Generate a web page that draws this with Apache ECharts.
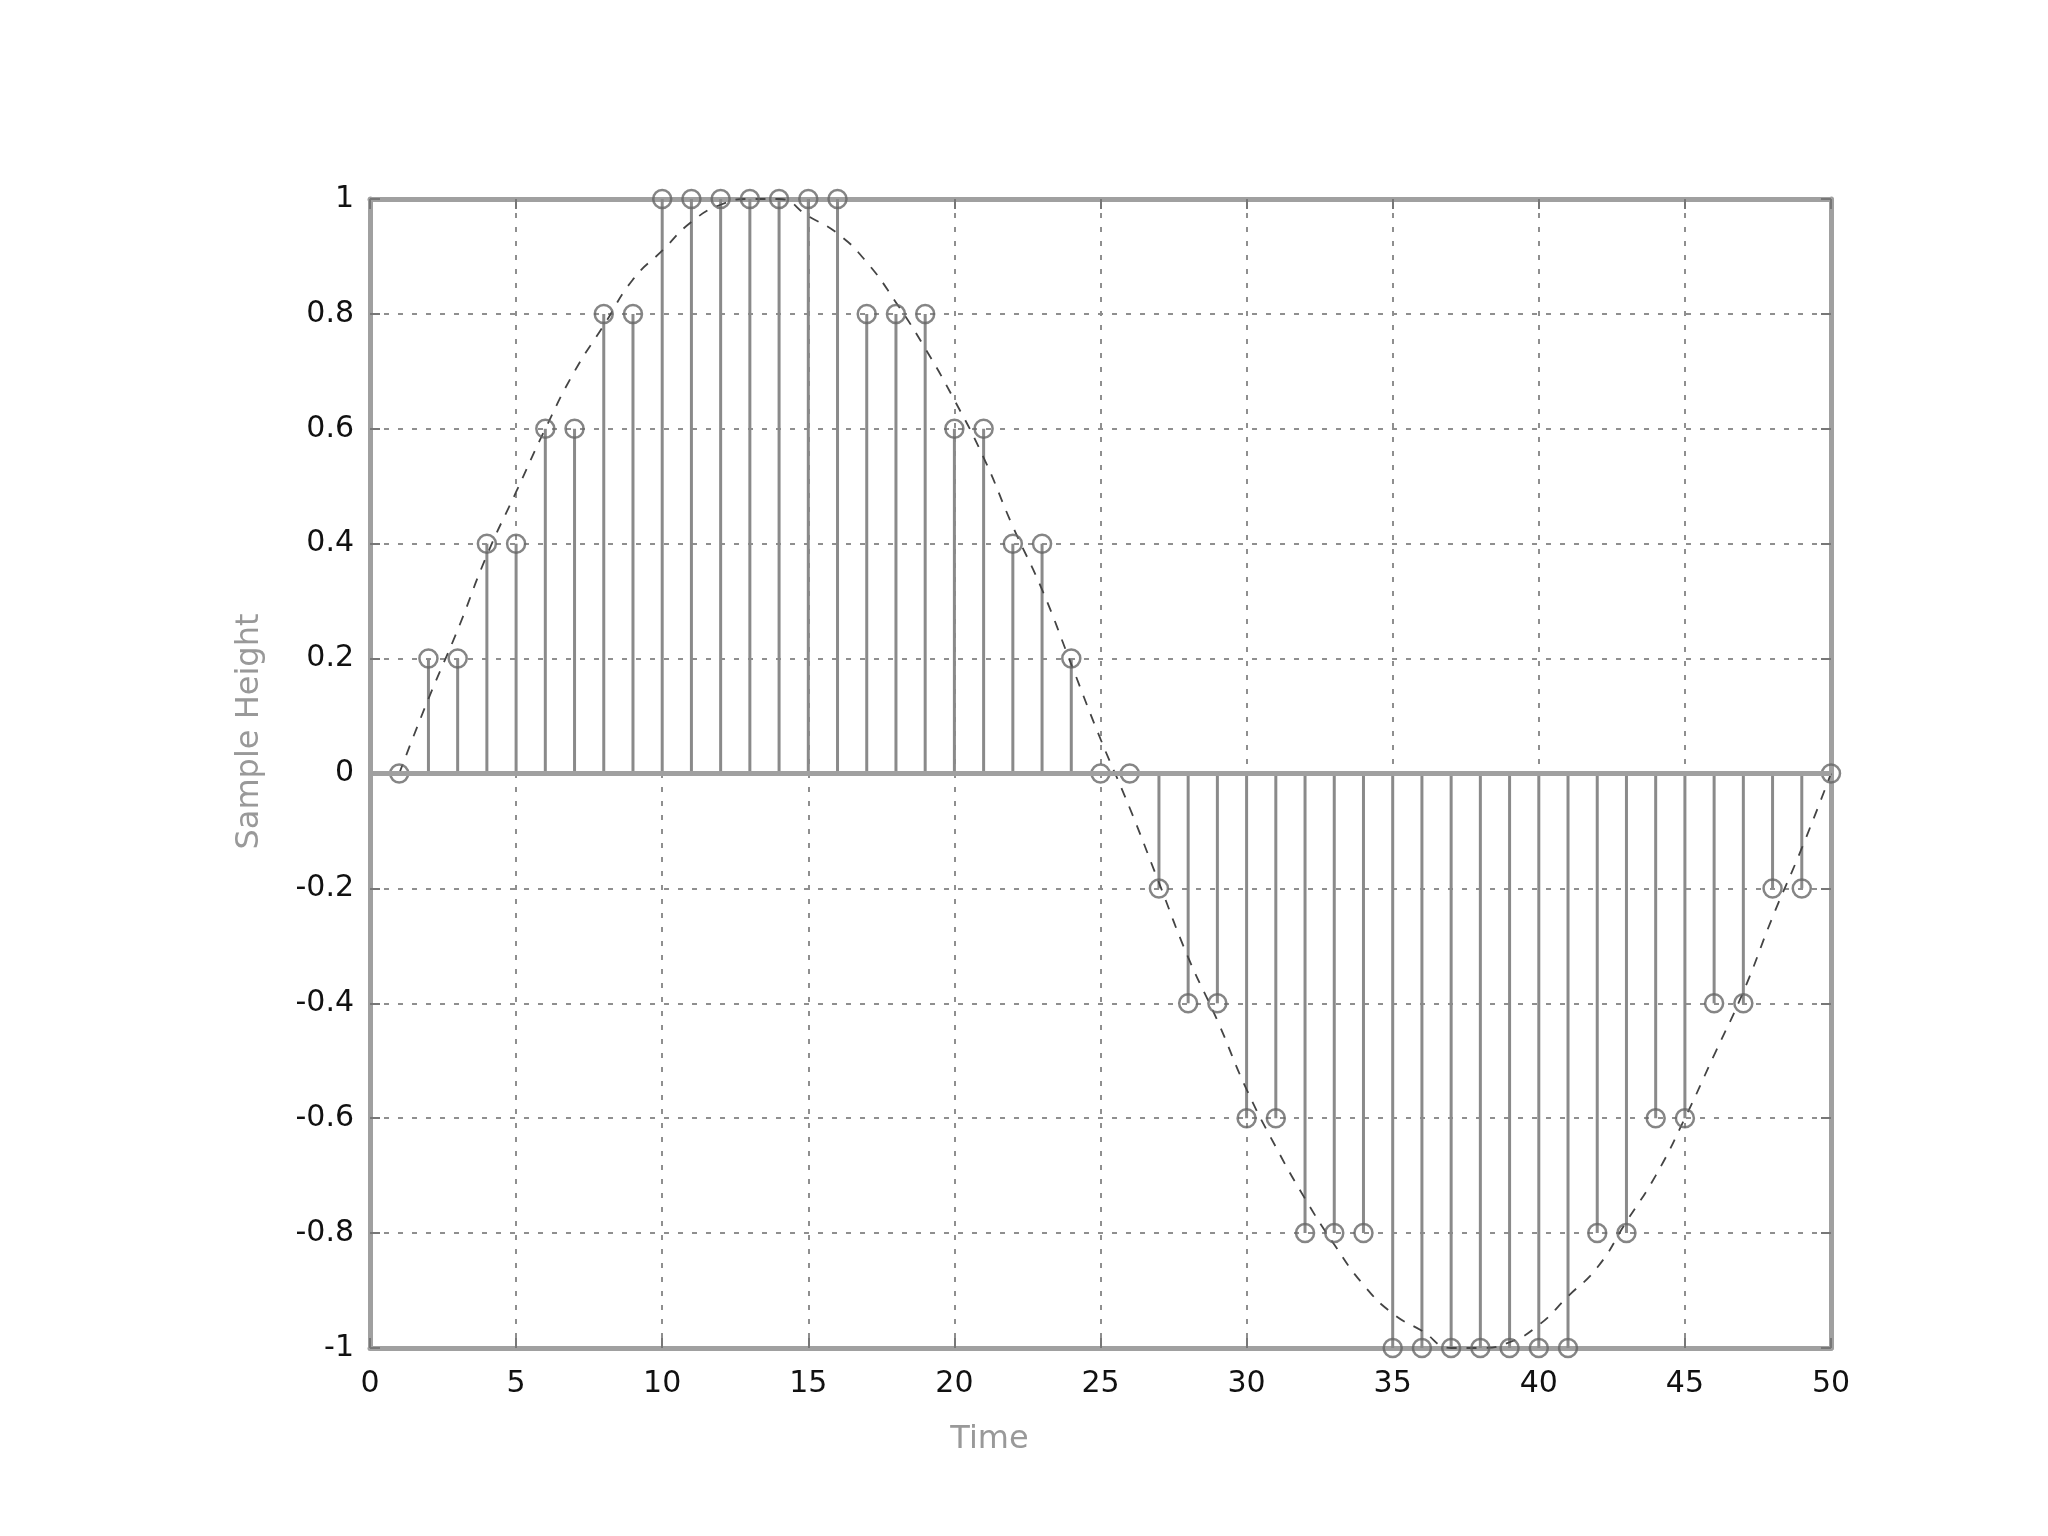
<!DOCTYPE html>
<html>
<head>
<meta charset="utf-8">
<script src="https://cdn.jsdelivr.net/npm/echarts@6/dist/echarts.min.js"></script>
<style>
html,body{margin:0;padding:0;background:#fff;}
#chart{width:2048px;height:1536px;}
</style>
</head>
<body>
<div id="chart"></div>
<script>
// Sample times (x values)
const times = [1,2,3,4,5,6,7,8,9,10,11,12,13,14,15,16,17,18,19,20,21,22,23,24,25,
               26,27,28,29,30,31,32,33,34,35,36,37,38,39,40,41,42,43,44,45,46,47,48,49,50];
// Quantized sample heights (stems + circles)
const samples = [0,0.2,0.2,0.4,0.4,0.6,0.6,0.8,0.8,1,1,1,1,1,1,1,0.8,0.8,0.8,0.6,0.6,0.4,0.4,0.2,0,
                 0,-0.2,-0.4,-0.4,-0.6,-0.6,-0.8,-0.8,-0.8,-1,-1,-1,-1,-1,-1,-1,-0.8,-0.8,-0.6,-0.6,-0.4,-0.4,-0.2,-0.2,0];
// Underlying continuous signal (dashed curve)
const envelope = [0,0.13,0.25,0.38,0.49,0.6,0.7,0.78,0.86,0.91,0.96,0.99,1,1,0.97,0.94,0.89,0.82,0.74,0.65,0.55,0.43,0.32,0.19,0.06,
                  -0.06,-0.19,-0.32,-0.43,-0.55,-0.65,-0.74,-0.82,-0.89,-0.94,-0.97,-1,-1,-0.99,-0.96,-0.91,-0.86,-0.78,-0.7,-0.6,-0.49,-0.38,-0.25,-0.13,0];
// Axis settings / labels
const xTickStep = 5;
const yTickStep = 0.2;
const xTitle = 'Time';
const yTitle = 'Sample Height';

const stemData = times.map((t, i) => [t, samples[i]]);
const envData = times.map((t, i) => [t, envelope[i]]);

const chart = echarts.init(document.getElementById('chart'), null, {renderer: 'canvas'});

const frameLine = {show: true, lineStyle: {color: '#a0a0a0', width: 5}};
const tickInside = {show: true, inside: true, length: 10, lineStyle: {color: '#777', width: 2}};
const gridLine = {show: true, lineStyle: {color: '#8f8f8f', width: 2, type: [5, 9]}};
const labelStyle = {color: '#111', fontFamily: 'DejaVu Sans', fontSize: 30};

const option = {
  animation: false,
  backgroundColor: '#ffffff',
  grid: {left: 370, right: 217, top: 199, bottom: 188, containLabel: false},
  xAxis: [
    {
      type: 'value', min: 0, max: 50, interval: xTickStep, position: 'bottom',
      name: xTitle, nameLocation: 'middle', nameGap: 76,
      nameTextStyle: {color: '#999', fontFamily: 'DejaVu Sans', fontSize: 32, padding: [0, 222, 0, 0]},
      axisLine: Object.assign({onZero: false}, frameLine),
      axisTick: tickInside,
      axisLabel: Object.assign({margin: 21}, labelStyle),
      splitLine: gridLine
    },
    {
      type: 'value', min: 0, max: 50, interval: xTickStep, position: 'top',
      axisLine: Object.assign({onZero: false}, frameLine),
      axisTick: tickInside,
      axisLabel: {show: false},
      splitLine: {show: false}
    }
  ],
  yAxis: [
    {
      type: 'value', min: -1, max: 1, interval: yTickStep, position: 'left',
      name: yTitle, nameLocation: 'middle', nameGap: 104, nameRotate: 90,
      nameTextStyle: {color: '#999', fontFamily: 'DejaVu Sans', fontSize: 32, padding: [0, 0, 0, 84]},
      axisLine: Object.assign({onZero: false}, frameLine),
      axisTick: tickInside,
      axisLabel: Object.assign({margin: 16}, labelStyle),
      splitLine: gridLine
    },
    {
      type: 'value', min: -1, max: 1, interval: yTickStep, position: 'right',
      axisLine: Object.assign({onZero: false}, frameLine),
      axisTick: tickInside,
      axisLabel: {show: false},
      splitLine: {show: false}
    }
  ],
  series: [
    {
      type: 'custom',
      name: 'stems',
      xAxisIndex: 0, yAxisIndex: 0,
      data: stemData,
      encode: {x: 0, y: 1},
      renderItem: function (params, api) {
        const p0 = api.coord([api.value(0), 0]);
        const p1 = api.coord([api.value(0), api.value(1)]);
        return {
          type: 'line',
          shape: {x1: p0[0], y1: p0[1], x2: p1[0], y2: p1[1]},
          style: {stroke: '#8a8a8a', lineWidth: 3}
        };
      },
      markLine: {
        silent: true,
        symbol: 'none',
        label: {show: false},
        lineStyle: {color: '#a0a0a0', width: 5, type: 'solid'},
        data: [{yAxis: 0}]
      },
      z: 2
    },
    {
      type: 'line',
      name: 'signal',
      xAxisIndex: 0, yAxisIndex: 0,
      data: envData,
      smooth: true,
      showSymbol: false,
      lineStyle: {color: '#444', width: 1.8, type: [10, 10]},
      z: 3
    },
    {
      type: 'scatter',
      name: 'samples',
      xAxisIndex: 0, yAxisIndex: 0,
      data: stemData,
      symbol: 'circle',
      symbolSize: 18,
      itemStyle: {color: 'rgba(255,255,255,0)', borderColor: '#666', borderWidth: 2.5},
      z: 4
    }
  ]
};

chart.setOption(option);
</script>
</body>
</html>
